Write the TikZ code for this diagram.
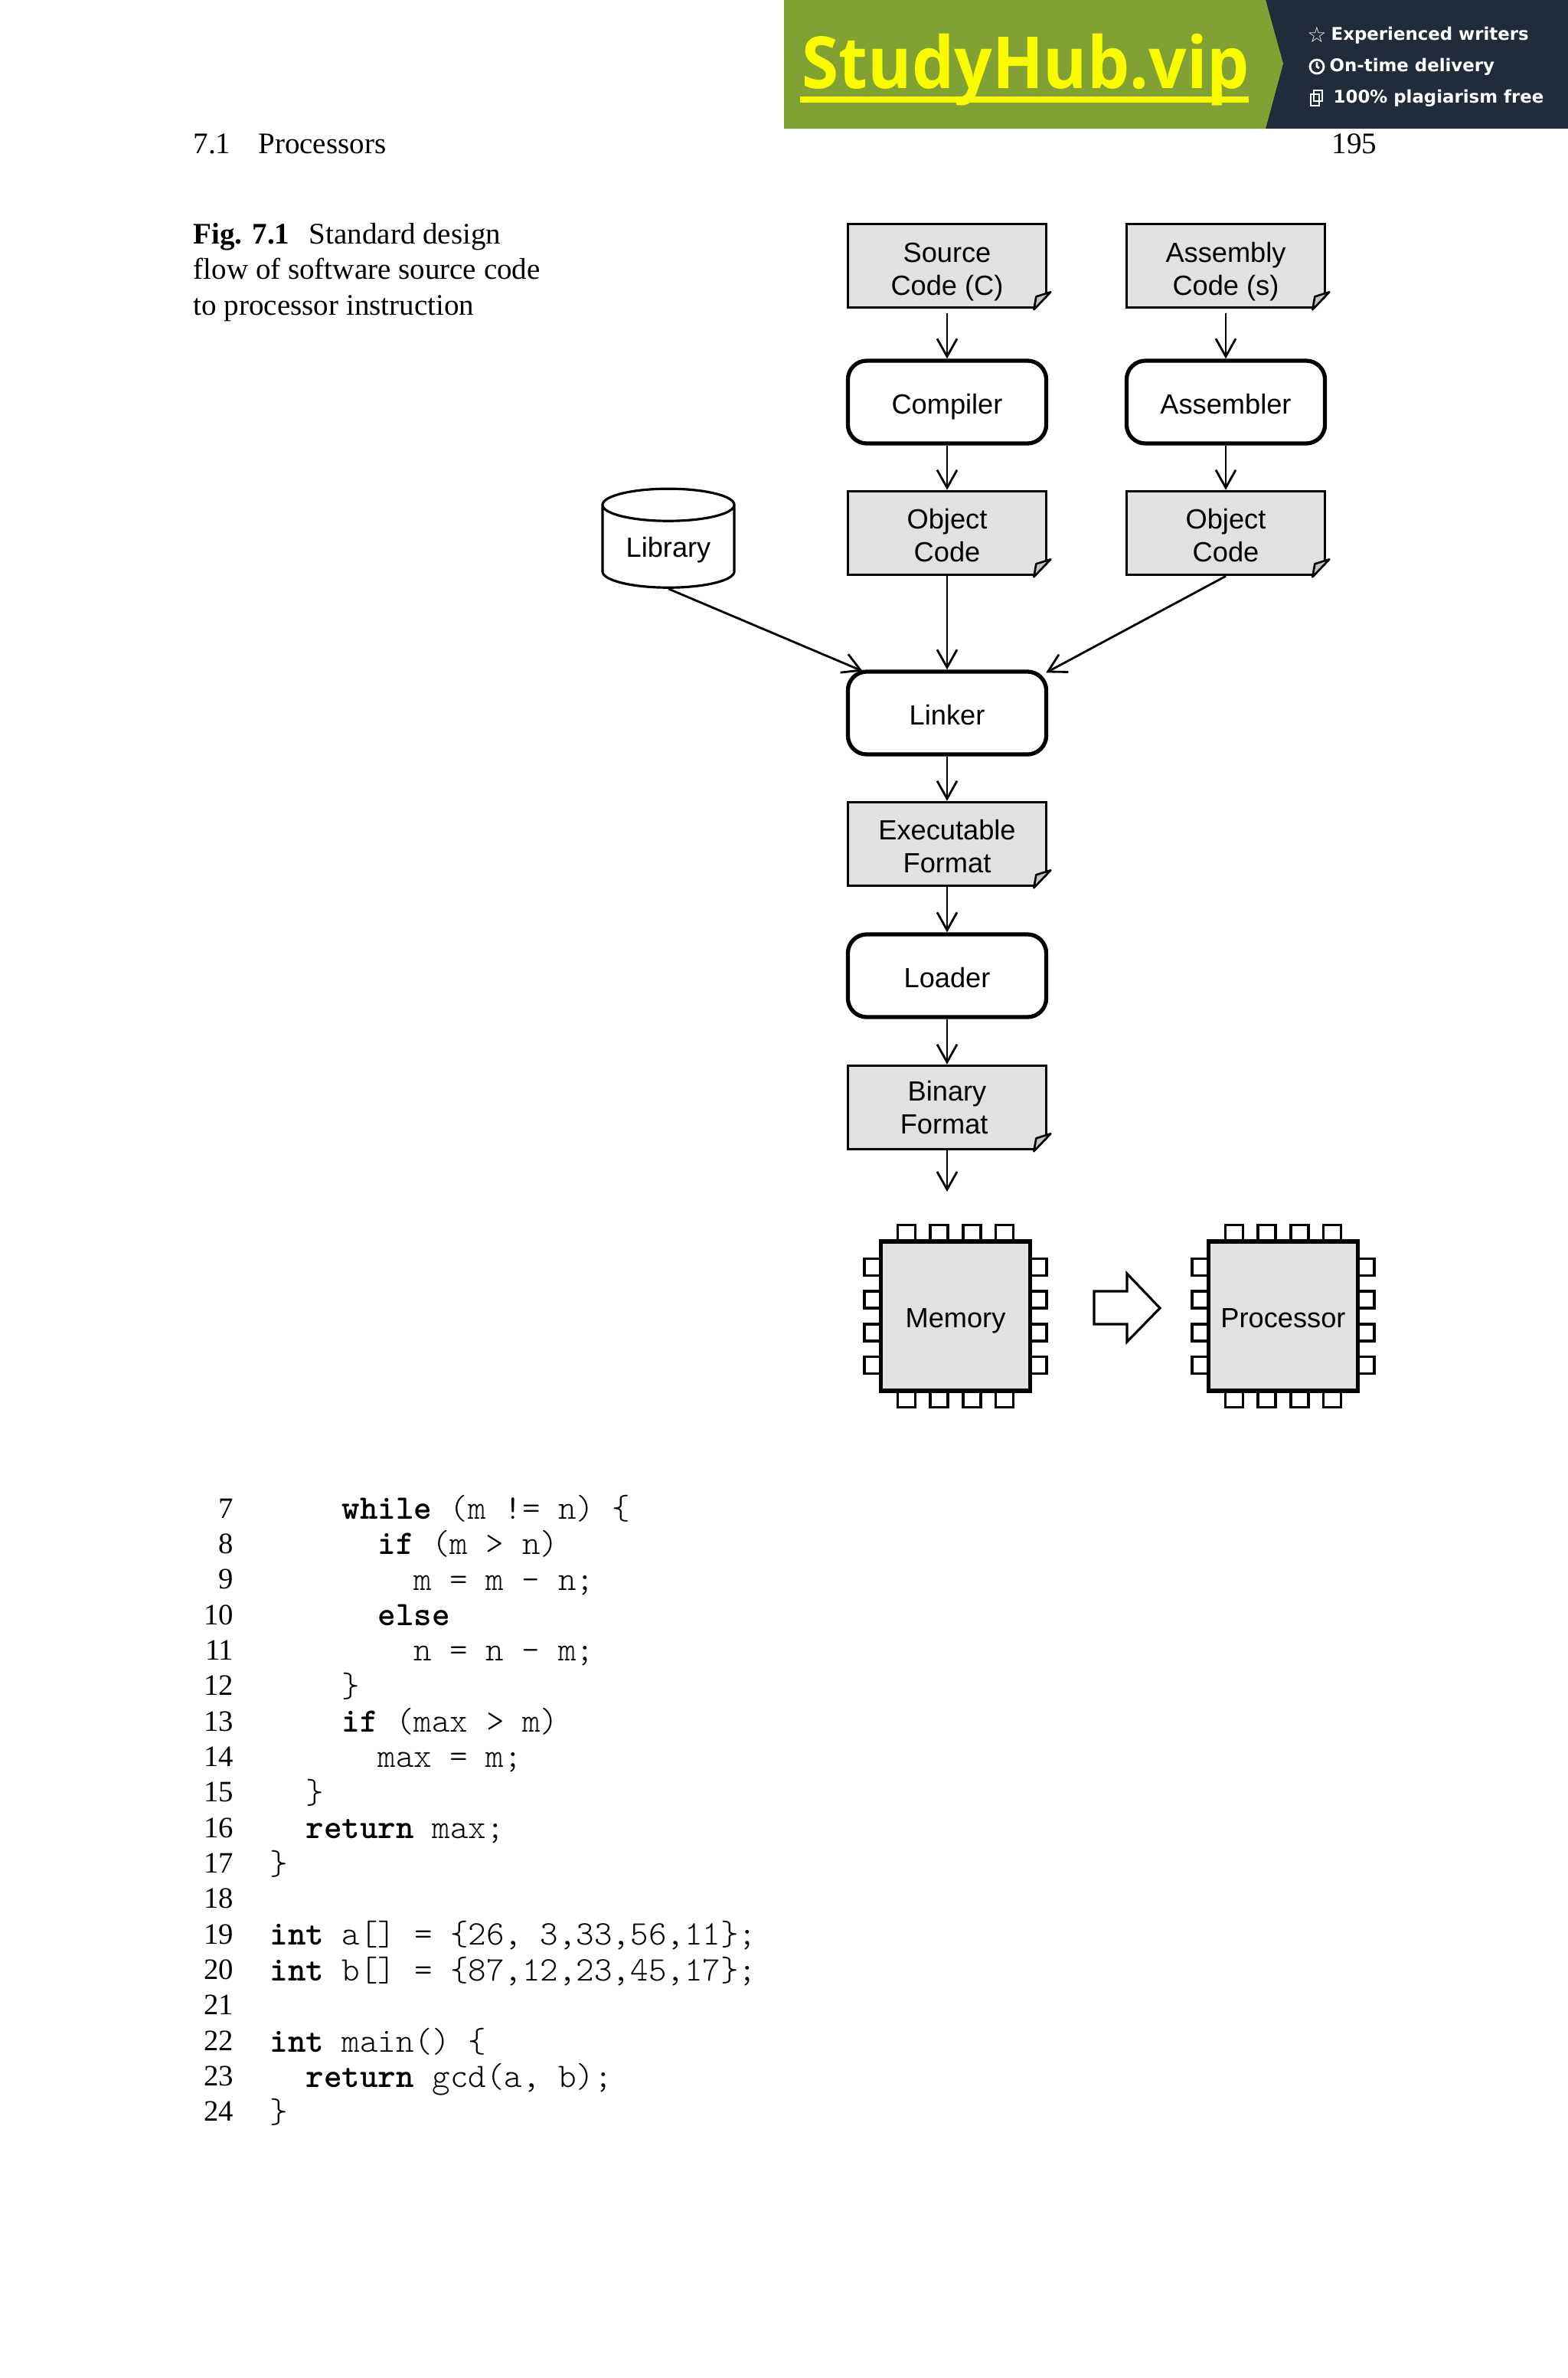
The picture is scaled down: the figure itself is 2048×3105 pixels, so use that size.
\documentclass[tikz,border=0pt]{standalone}
\usepackage{fontspec}
\usetikzlibrary{arrows.meta,shapes.geometric}
\setmainfont{Liberation Serif}
\setsansfont{Liberation Sans}
\newfontfamily\studyfont{Open Sans}
\newfontfamily\tagfont{DejaVu Sans}
\definecolor{bargreen}{HTML}{81A135}
\definecolor{bardark}{HTML}{222B3A}
\definecolor{baryellow}{HTML}{FBFB00}
\definecolor{boxgray}{HTML}{E1E1E2}
\newcommand{\kw}[1]{\textbf{#1}}
\newcommand{\drop}[1]{\rule{0pt}{#1}}

\begin{document}
\begin{tikzpicture}
  [x=.01cm,y=-.01cm,every node/.style={inner sep=0pt},
   flow/.style={line width=.8pt,-{Straight Barb[length=6.6pt,width=7.4pt]}},
   doc/.style={draw,line width=1pt,fill=boxgray,align=center,font=\sffamily\fontsize{10.3}{12.2}\selectfont,
     minimum width=2.59cm,minimum height=1.09cm},
   tool/.style={draw,line width=1.5pt,rounded corners=7pt,fill=white,font=\sffamily\fontsize{10.3}{12.2}\selectfont,
     minimum width=2.59cm,minimum height=1.08cm,text height=10.85pt,text depth=2pt},
   chip/.style={draw,line width=1.6pt,fill=boxgray,font=\sffamily\fontsize{10.3}{12.2}\selectfont,
     minimum width=1.95cm,minimum height=1.95cm,text height=10.5pt,text depth=2pt},
   pin/.style={draw,line width=1pt},
   page/.style={anchor=base west,font=\rmfamily\fontsize{11.1}{13.2}\selectfont},
   lineno/.style={anchor=base east,font=\rmfamily\fontsize{11}{13.2}\selectfont},
   code/.style={anchor=base west,font=\ttfamily\fontseries{l}\fontsize{12.75}{15}\selectfont\frenchspacing},
   tagline/.style={anchor=base west,text=white,font=\tagfont\bfseries\fontsize{6.5}{7}\selectfont}]

  \useasboundingbox (0,0) rectangle (2048,3105);

  \fill[bardark] (1640,0) rectangle (2048,168);
  \fill[bargreen] (1024,0) -- (1653,0) -- (1676,83) -- (1653,168) -- (1024,168) -- cycle;
  \node[anchor=base west,text=baryellow,font=\studyfont\bfseries\fontsize{26.7}{30}\selectfont] (study) at (1047,115) {\scalebox{.93}[1]{StudyHub.vip}};
  \fill[baryellow] (1045,126) rectangle (1631,134);
  \node[tagline] (tag1) at (1738,52) {Experienced writers};
  \node[tagline] (tag2) at (1736,93) {On-time delivery};
  \node[tagline] (tag3) at (1741,134) {100\% plagiarism free};
  \node[anchor=center,text=white,font=\tagfont\bfseries\fontsize{8}{9}\selectfont] (star) at (1720,45) {☆};
  \draw[white,line width=.8pt] (1720,87) circle (9);
  \draw[white,line width=.8pt] (1720,81) -- (1720,87) -- (1723,89);
  \draw[white,line width=.8pt] (1712,123) rectangle (1723,138);
  \draw[white,line width=.8pt] (1716,118) rectangle (1727,132);

  \node[page] (sec) at (252,200) {7.1\hspace{10.2pt}Processors};
  \node[page] (num) at (1739,200) {195};
  \node[page] (cap1) at (252,318) {\textbf{Fig. 7.1}\hspace{7.2pt}Standard design};
  \node[page] (cap2) at (252,364) {flow of software source code};
  \node[page] (cap3) at (252,411) {to processor instruction};

  \node[doc] (src) at (1237,347) {\drop{12pt}Source\\Code (C)};
  \node[doc] (asm) at (1601,347) {\drop{12pt}Assembly\\Code (s)};
  \node[tool] (comp) at (1237,525) {Compiler};
  \node[tool] (asmb) at (1601,525) {Assembler};
  \node[doc] (obj1) at (1237,696) {\drop{9pt}Object\\Code};
  \node[doc] (obj2) at (1601,696) {\drop{9pt}Object\\Code};
  \node[cylinder,draw,line width=.9pt,shape border rotate=90,aspect=.38,fill=white,
    minimum width=1.72cm,minimum height=1.29cm,text height=9.5pt,text depth=2pt,
    font=\sffamily\fontsize{10.3}{12.2}\selectfont] (lib) at (873,714) {Library};
  \node[tool] (link) at (1237,931) {Linker};
  \node[doc] (exe) at (1237,1102) {\drop{9pt}Executable\\Format};
  \node[tool] (load) at (1237,1274) {Loader};
  \node[doc] (bin) at (1237,1446) {Binary\\Format\hspace*{2.2pt}};
  \coordinate (binend) at (1237,1556);

  \foreach \docbox in {src,asm,obj1,obj2,exe,bin} {
    \fill[white] ([shift={(-18,3)}]\docbox.south east) -- ([shift={(3,3)}]\docbox.south east) -- ([shift={(3,-19)}]\docbox.south east) -- cycle;
    \draw[line width=.75pt,line join=round,fill=boxgray!70!gray] ([shift={(-18,1)}]\docbox.south east) -- ([shift={(-15,-16)}]\docbox.south east) -- ([shift={(4,-22)}]\docbox.south east) -- cycle;
  }

  \foreach \from/\to in {comp/obj1,asmb/obj2,obj1/link,link/exe,exe/load,load/bin,bin/binend}
    \draw[flow] (\from) -- (\to);
  \foreach \from/\to in {src/comp,asm/asmb}
    \draw[flow,shorten <=1.5pt] (\from) -- (\to);
  \draw[flow] (lib.south) -- ([shift={(22,2)}]link.north west);
  \draw[flow] (obj2.south) -- ([shift={(-3,4)}]link.north east);

  \node[chip] (mem) at (1248,1718.5) {Memory};
  \node[chip] (proc) at (1676,1718.5) {Processor};
  \foreach \chipbox in {mem,proc}
    \foreach \o in {-64,-21.5,21.5,64} {
      \draw[pin] ([shift={(\o-11.5,-119)}]\chipbox.center) rectangle ([shift={(\o+11.5,-98)}]\chipbox.center);
      \draw[pin] ([shift={(\o-11.5,98)}]\chipbox.center) rectangle ([shift={(\o+11.5,119)}]\chipbox.center);
      \draw[pin] ([shift={(-119,\o-11)}]\chipbox.center) rectangle ([shift={(-98,\o+11)}]\chipbox.center);
      \draw[pin] ([shift={(98,\o-11)}]\chipbox.center) rectangle ([shift={(119,\o+11)}]\chipbox.center);
    }
  \draw[line width=.9pt,fill=white] (1429,1686) -- (1472,1686) -- (1472,1663) -- (1515,1708) -- (1472,1752) -- (1472,1729) -- (1429,1729) -- cycle;

  \foreach \n in {7,...,24}
    \node[lineno] (no\n) at (306,{1982+(\n-7)*46.35}) {\n};

  \node[code] (line7) at (446,1983.5) {\kw{while} (m != n) \{};
  \node[code] (line8) at (493,2029.5) {\kw{if} (m > n)};
  \node[code] (line9) at (540,2076.5) {m = m - n;};
  \node[code] (line10) at (493,2122.5) {\kw{else}};
  \node[code] (line11) at (540,2168.5) {n = n - m;};
  \node[code] (line12) at (446,2215.5) {\}};
  \node[code] (line13) at (446,2261.5) {\kw{if} (max > m)};
  \node[code] (line14) at (493,2307.5) {max = m;};
  \node[code] (line15) at (399,2354.5) {\}};
  \node[code] (line16) at (399,2400.5) {\kw{return} max;};
  \node[code] (line17) at (352,2447.5) {\}};
  \node[code] (line19) at (352,2539.5) {\kw{int} a[] = \{26, 3,33,56,11\};};
  \node[code] (line20) at (352,2586.5) {\kw{int} b[] = \{87,12,23,45,17\};};
  \node[code] (line22) at (352,2679.5) {\kw{int} main() \{};
  \node[code] (line23) at (399,2725.5) {\kw{return} gcd(a, b);};
  \node[code] (line24) at (352,2771.5) {\}};

\end{tikzpicture}
\end{document}
